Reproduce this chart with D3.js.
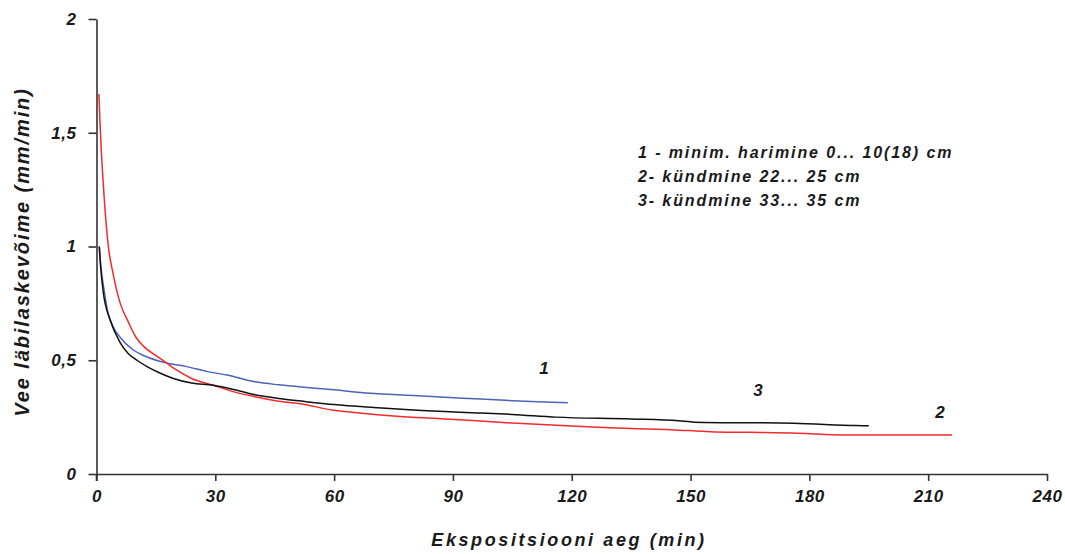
<!DOCTYPE html>
<html>
<head>
<meta charset="utf-8">
<script src="https://cdn.jsdelivr.net/npm/d3@7"></script>
<style>
  body { margin: 0; background: #fff; }
  text { font-family: "Liberation Sans", Arial, sans-serif; font-weight: bold; font-style: italic; fill: #1a1a1a; }
</style>
</head>
<body>
<div id="chart"></div>
<script>
// series 1 - minim. harimine
const t1 = [0.7, 1, 2, 3, 4.2, 6, 9.3, 12, 17.7, 22.8, 28, 33, 40, 46, 51, 60, 69, 80, 88, 97, 105, 115, 119];
const v1 = [1.0, 0.93, 0.80, 0.70, 0.647, 0.60, 0.545, 0.52, 0.488, 0.472, 0.45, 0.435, 0.405, 0.392, 0.384, 0.37, 0.355, 0.345, 0.337, 0.33, 0.322, 0.315, 0.313];
// series 2 - kündmine 22...25
const t2 = [0.6, 1, 2, 3, 4.2, 6, 8, 10, 12, 15, 17.7, 19.5, 24, 29.5, 35, 40, 46, 51, 60, 66.5, 75, 88, 95, 105, 115, 125, 135, 145, 155, 165, 177, 189, 200, 216];
const v2 = [1.67, 1.5, 1.2, 1.0, 0.88, 0.75, 0.67, 0.60, 0.56, 0.52, 0.488, 0.465, 0.42, 0.39, 0.36, 0.34, 0.32, 0.31, 0.28, 0.268, 0.255, 0.242, 0.235, 0.224, 0.215, 0.207, 0.20, 0.195, 0.186, 0.183, 0.179, 0.171, 0.171, 0.171];
// series 3 - kündmine 33...35
const t3 = [0.7, 1, 1.7, 3.4, 6, 8, 10.2, 13, 16, 19.4, 24, 29.5, 35, 40, 46, 51, 60, 70, 80, 97, 105, 116, 135, 147, 151, 176, 192, 195];
const v3 = [1.0, 0.92, 0.80, 0.68, 0.576, 0.53, 0.50, 0.47, 0.444, 0.42, 0.40, 0.39, 0.37, 0.348, 0.332, 0.322, 0.305, 0.292, 0.281, 0.268, 0.262, 0.250, 0.242, 0.234, 0.228, 0.223, 0.213, 0.212];

const xTicks = [0, 30, 60, 90, 120, 150, 180, 210, 240];
const yTicks = [0, 0.5, 1, 1.5, 2];
const legendLines = ['1 - minim. harimine 0... 10(18) cm', '2- kündmine 22... 25 cm', '3- kündmine 33... 35 cm'];
const curveLabels = ['1', '2', '3'];
const labelPos = [[113, 0.44], [213, 0.245], [167, 0.345]];

const width = 1065, height = 554;
const margin = { left: 96.5, right: 18, top: 19, bottom: 80 };

const svg = d3.select('#chart').append('svg')
  .attr('width', width)
  .attr('height', height);

const x = d3.scaleLinear().domain([0, 240]).range([margin.left, width - margin.right]);
const y = d3.scaleLinear().domain([0, 2]).range([height - margin.bottom, margin.top]);

const fmt = d => String(d).replace('.', ',');

// y axis
const yAxis = svg.append('g')
  .attr('transform', 'translate(' + x(0) + ',0)')
  .call(d3.axisLeft(y).tickValues(yTicks).tickFormat(fmt).tickSize(8).tickSizeOuter(0));
// x axis
const xAxis = svg.append('g')
  .attr('transform', 'translate(0,' + y(0) + ')')
  .call(d3.axisBottom(x).tickValues(xTicks).tickSize(7).tickSizeOuter(0));

[xAxis, yAxis].forEach(a => {
  a.select('.domain').attr('stroke', '#333').attr('stroke-width', 1.6);
  a.selectAll('.tick line').attr('stroke', '#333').attr('stroke-width', 1.6);
  a.selectAll('.tick text')
    .style('font-size', '17px')
    .style('letter-spacing', '0.5px')
    .attr('fill', '#1a1a1a');
});
yAxis.selectAll('.tick text').attr('x', -20);
xAxis.selectAll('.tick text').attr('y', 16);

// extend the y axis a little below the origin, as in the original
svg.append('line')
  .attr('x1', x(0)).attr('x2', x(0))
  .attr('y1', y(0)).attr('y2', y(0) + 7)
  .attr('stroke', '#333').attr('stroke-width', 1.6);

const line = d3.line()
  .x(d => x(d[0]))
  .y(d => y(d[1]))
  .curve(d3.curveMonotoneX);

const series = [
  { t: t1, v: v1, color: '#4d63b8' },
  { t: t2, v: v2, color: '#f42a2a' },
  { t: t3, v: v3, color: '#111111' }
];

series.forEach(s => {
  svg.append('path')
    .attr('d', line(s.t.map((t, i) => [t, s.v[i]])))
    .attr('fill', 'none')
    .attr('stroke', s.color)
    .attr('stroke-width', 1.5);
});

// curve numbers
svg.selectAll('.curve-label')
  .data(curveLabels)
  .enter().append('text')
  .attr('class', 'curve-label')
  .attr('x', (d, i) => x(labelPos[i][0]))
  .attr('y', (d, i) => y(labelPos[i][1]))
  .attr('text-anchor', 'middle')
  .style('font-size', '17px')
  .text(d => d);

// legend
svg.selectAll('.legend')
  .data(legendLines)
  .enter().append('text')
  .attr('class', 'legend')
  .attr('x', 638)
  .attr('y', (d, i) => 158 + i * 24)
  .style('font-size', '16px')
  .style('letter-spacing', '1.9px')
  .text(d => d);

// axis titles
svg.append('text')
  .attr('x', 569)
  .attr('y', 546)
  .attr('text-anchor', 'middle')
  .style('font-size', '18px')
  .style('letter-spacing', '2.6px')
  .text('Ekspositsiooni aeg (min)');

svg.append('text')
  .attr('transform', 'translate(29,' + 252 + ') rotate(-90)')
  .attr('text-anchor', 'middle')
  .style('font-size', '20px')
  .style('letter-spacing', '1.9px')
  .text('Vee läbilaskevõime (mm/min)');
</script>
</body>
</html>
